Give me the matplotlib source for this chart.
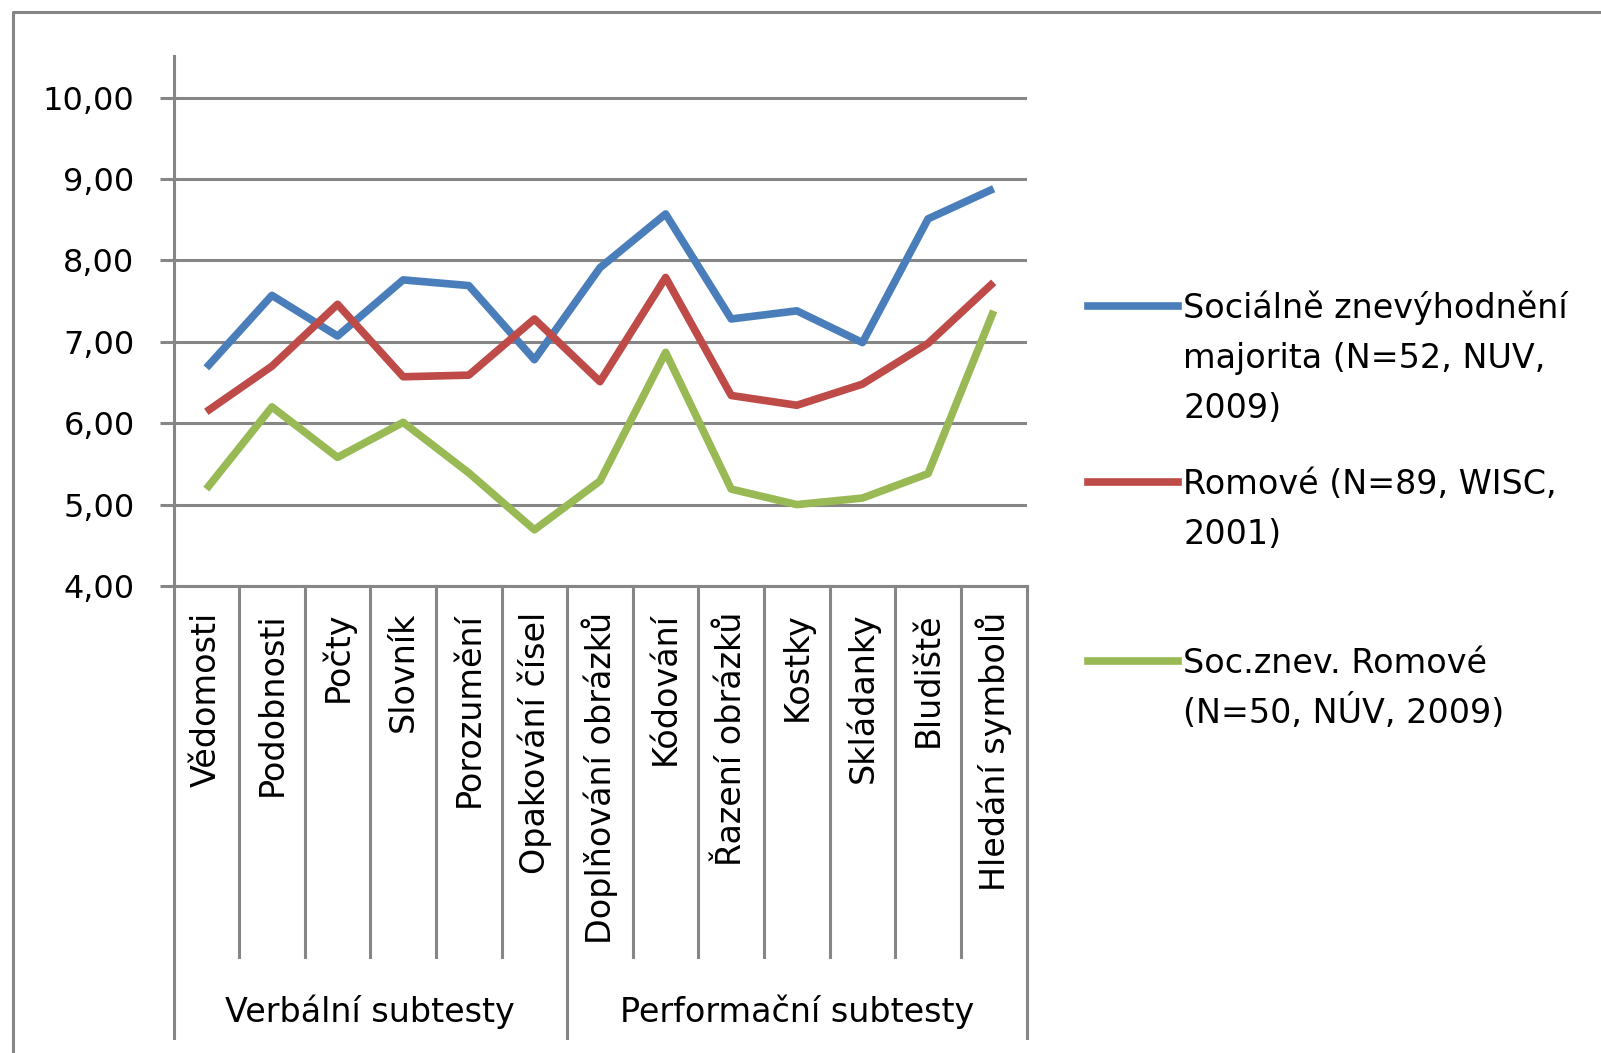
import matplotlib.pyplot as plt
from matplotlib.lines import Line2D
from matplotlib.ticker import FuncFormatter

# WISC subtest profiles
categories = ['Vědomosti', 'Podobnosti', 'Počty', 'Slovník', 'Porozumění',
              'Opakování čísel', 'Doplňování obrázků', 'Kódování',
              'Řazení obrázků', 'Kostky', 'Skládanky', 'Bludiště',
              'Hledání symbolů']
groups = ['Verbální subtesty', 'Performační subtesty']
group_sizes = [6, 7]

series_names = ['Sociálně znevýhodnění\nmajorita (N=52, NUV,\n2009)',
                'Romové (N=89, WISC,\n2001)',
                'Soc.znev. Romové\n(N=50, NÚV, 2009)']
majorita = [6.68, 7.57, 7.07, 7.76, 7.69, 6.78, 7.91, 8.57, 7.28, 7.38, 6.99, 8.51, 8.88]
romove = [6.14, 6.70, 7.46, 6.57, 6.59, 7.28, 6.51, 7.79, 6.34, 6.22, 6.48, 6.98, 7.73]
soc_romove = [5.19, 6.20, 5.58, 6.01, 5.39, 4.69, 5.29, 6.87, 5.19, 5.00, 5.08, 5.38, 7.38]

colors = ['#4A7EBB', '#BE4B48', '#98B954']
grid_c = '#868686'

W, H = 1601, 1053


def fx(px):
    return px / W


def fy(py):
    return 1 - py / H


fig = plt.figure(figsize=(W / 100, H / 100), dpi=100)
ax = fig.add_axes([fx(173.5), fy(586), 853 / W, 530 / H])

x = list(range(len(categories)))
for vals, c in zip([majorita, romove, soc_romove], colors):
    ax.plot(x, vals, color=c, lw=5.5, solid_joinstyle='round',
            solid_capstyle='butt', zorder=3)

ax.set_xlim(-0.5, len(categories) - 0.5)
ax.set_ylim(4, 10.51)
ax.set_yticks(range(4, 11))
ax.yaxis.set_major_formatter(FuncFormatter(lambda v, p: f'{v:.2f}'.replace('.', ',')))
ax.grid(axis='y', color=grid_c, lw=2.2)
ax.set_axisbelow(True)
ax.tick_params(axis='y', length=10, width=2.2, color=grid_c, labelsize=23, pad=18)
ax.set_xticks([])
for side in ['top', 'right']:
    ax.spines[side].set_visible(False)
for side in ['left', 'bottom']:
    ax.spines[side].set_color(grid_c)
    ax.spines[side].set_linewidth(2.2)

# two-level category axis: separators, subtest names, group names
xt = ax.get_xaxis_transform()
bounds = [0]
for g in group_sizes:
    bounds.append(bounds[-1] + g)
for b in range(len(categories) + 1):
    bottom = -0.853 if b in bounds else -0.70
    ax.plot([b - 0.5, b - 0.5], [0, bottom], transform=xt, clip_on=False,
            color=grid_c, lw=2.2)

for i, cat in enumerate(categories):
    ax.text(i, -0.049, cat, rotation=90, ha='center', va='top',
            transform=xt, fontsize=24)

for g, lo, hi in zip(groups, bounds[:-1], bounds[1:]):
    ax.text((lo + hi - 1) / 2, -0.804, g, ha='center', va='center',
            transform=xt, fontsize=24)

# legend
for name, c, hy in zip(series_names, colors, [306, 482, 661]):
    fig.add_artist(Line2D([fx(1088), fx(1178)], [fy(hy), fy(hy)], color=c,
                          lw=5.5, transform=fig.transFigure))
    for k, line in enumerate(name.split('\n')):
        fig.text(fx(1183), fy(hy + 12 + 50 * k), line, ha='left',
                 va='baseline', fontsize=24)

# chart area border
fig.add_artist(Line2D([fx(13), fx(13), fx(W)], [fy(H), fy(12), fy(12)],
                      color=grid_c, lw=2.2, transform=fig.transFigure))

fig.savefig('out.png', dpi=100)
